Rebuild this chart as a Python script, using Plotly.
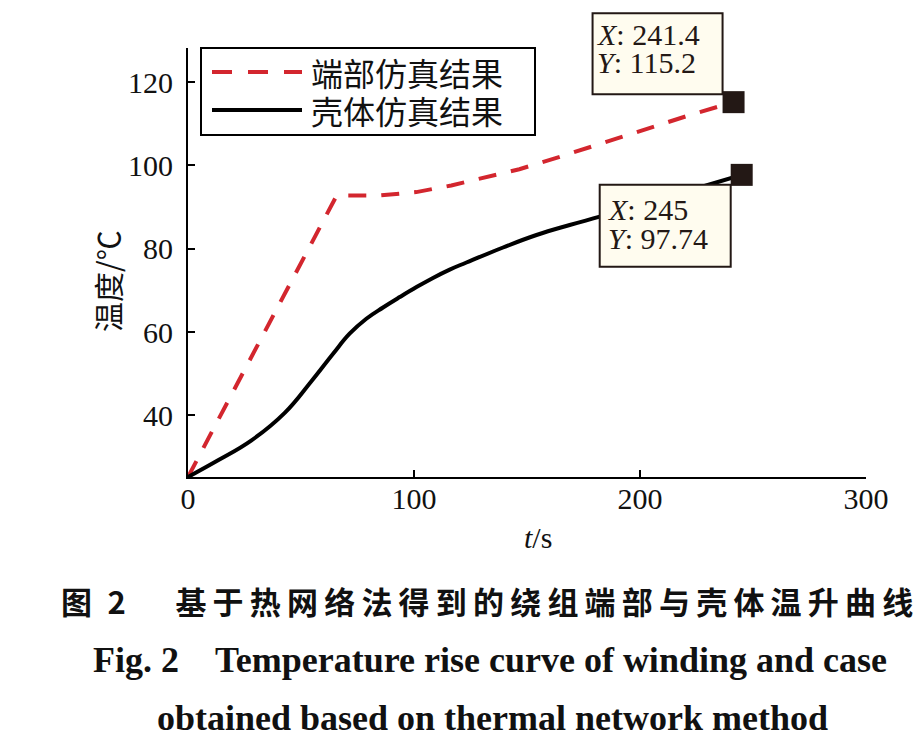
import plotly.graph_objects as go

# ---------------- data ----------------
t_end = [0, 65.8, 84.8, 101, 116.5, 132, 146.6, 162.3, 177.8, 192.5, 207.3, 222.7, 241.4]
T_end = [25.2, 92.8, 92.8, 93.6, 95.2, 97.1, 99.1, 101.7, 104.4, 106.9, 109.5, 112.2, 115.2]

t_case = [0, 13.3, 28.1, 42.8, 54.6, 64.2, 71.5, 78.9, 86.3, 93.7, 101.1, 108.4, 115.8,
          123.2, 139.4, 154.2, 168.9, 182.2, 200, 215, 230, 245]
T_case = [25.2, 29.2, 34.0, 40.6, 48.2, 54.8, 59.6, 63.2, 65.9, 68.4, 70.8, 73.0, 75.0,
          76.7, 80.3, 83.3, 85.7, 87.7, 90.5, 92.9, 95.3, 97.74]

series_names = ["端部仿真结果", "壳体仿真结果"]
x_ticks = [0, 100, 200, 300]
y_ticks = [40, 60, 80, 100, 120]
x_range = [0, 300]
y_range = [25.2, 128.2]
x_title = "<i>t</i>/s"
y_title = "温度/℃"
caption_cn_head = ["图", "2"]
caption_cn_body = "基于热网络法得到的绕组端部与壳体温升曲线"
caption_en1 = "Fig. 2    Temperature rise curve of winding and case"
caption_en2 = "obtained based on thermal network method"

# ---------------- layout constants ----------------
W, H = 923, 749
L, R, T, B = 188, 866, 48, 477
RED = "#d3262e"
DARK = "#231815"
SERIF = "Liberation Serif, serif"
CJK = "Noto Sans CJK SC, sans-serif"


def px(xp):
    return (xp - L) / (R - L)


def py(yp):
    return (B - yp) / (B - T)


def dx(x):
    return L + (x - x_range[0]) / (x_range[1] - x_range[0]) * (R - L)


def dy(y):
    return B - (y - y_range[0]) / (y_range[1] - y_range[0]) * (B - T)


fig = go.Figure()
fig.add_trace(go.Scatter(x=t_end, y=T_end, mode="lines", name=series_names[0],
                         line=dict(color=RED, width=4, dash="18px,15px")))
fig.add_trace(go.Scatter(x=t_case, y=T_case, mode="lines", name=series_names[1],
                         line=dict(color="#000000", width=4, shape="spline", smoothing=1.2)))
# data tip markers
fig.add_trace(go.Scatter(x=[t_end[-1], t_case[-1]], y=[T_end[-1], T_case[-1]], mode="markers",
                         marker=dict(symbol="square", size=22, color=DARK), showlegend=False,
                         cliponaxis=False))

shapes = []
annotations = []

# data tip boxes: (x, y, box x0, x1, y0, y1 offsets in px (screen, y down), line texts, text offsets)
tips = [
    (t_end[-1], T_end[-1], -141, -11, -89, -8,
     f"<i>X</i>: {t_end[-1]}", f"<i>Y</i>: {T_end[-1]}", -139, 68, 40),
    (t_case[-1], T_case[-1], -142, -11, 10, 92,
     f"<i>X</i>: {t_case[-1]:g}", f"<i>Y</i>: {T_case[-1]}", -136, -35, -64),
]
for xa, ya, x0, x1, y0, y1, l1, l2, xs, ys1, ys2 in tips:
    cx, cy = dx(xa), dy(ya)
    shapes.append(dict(type="rect", xref="paper", yref="paper",
                       x0=px(cx + x0), x1=px(cx + x1), y0=py(cy + y1), y1=py(cy + y0),
                       fillcolor="#fffcef", line=dict(color=DARK, width=2), layer="above"))
    for txt, ys in ((l1, ys1), (l2, ys2)):
        annotations.append(dict(x=xa, y=ya, xref="x", yref="y", text=txt, showarrow=False,
                                xanchor="left", yanchor="middle", xshift=xs, yshift=ys,
                                font=dict(family=SERIF, size=30, color=DARK)))

# legend (drawn manually to match the long line samples)
shapes.append(dict(type="rect", xref="paper", yref="paper", x0=px(201), x1=px(535),
                   y0=py(135), y1=py(48), fillcolor="white", line=dict(color="#000", width=2),
                   layer="above"))
shapes.append(dict(type="line", xref="paper", yref="paper", x0=px(212), x1=px(302),
                   y0=py(72), y1=py(72), line=dict(color=RED, width=4, dash="20px,16px"),
                   layer="above"))
shapes.append(dict(type="line", xref="paper", yref="paper", x0=px(212), x1=px(302),
                   y0=py(110), y1=py(110), line=dict(color="#000", width=4), layer="above"))
for name, yy in ((series_names[0], 72), (series_names[1], 110)):
    annotations.append(dict(x=px(309), y=py(yy), xref="paper", yref="paper", text=name,
                            showarrow=False, xanchor="left", yanchor="middle",
                            font=dict(family=CJK, size=32, color="#111")))

# axis titles
annotations.append(dict(x=px(107), y=py(281), xref="paper", yref="paper", text=y_title,
                        textangle=-90, showarrow=False, xanchor="center", yanchor="middle",
                        font=dict(family=CJK, size=30, color="#111")))
annotations.append(dict(x=px(538), y=py(537), xref="paper", yref="paper", text=x_title,
                        showarrow=False, xanchor="center", yanchor="middle",
                        font=dict(family=SERIF, size=30, color="#111")))

# captions
cn_text = (caption_cn_head[0] + "\u2002" + caption_cn_head[1] + "\u2003\u2009\u2009\u2009"
           + "\u2009".join(caption_cn_body))
annotations.append(dict(x=px(487), y=py(600), xref="paper", yref="paper",
                        text=cn_text, showarrow=False,
                        xanchor="center", yanchor="middle",
                        font=dict(family=CJK, size=31, color="#111", weight="bold")))
annotations.append(dict(x=px(490), y=py(660), xref="paper", yref="paper",
                        text=caption_en1.replace("  ", "\u00a0\u00a0"), showarrow=False,
                        xanchor="center", yanchor="middle",
                        font=dict(family=SERIF, size=36, color="#111", weight="bold")))
annotations.append(dict(x=px(492), y=py(718), xref="paper", yref="paper",
                        text=caption_en2, showarrow=False,
                        xanchor="center", yanchor="middle",
                        font=dict(family=SERIF, size=36, color="#111", weight="bold")))

axis_common = dict(showline=True, linewidth=2, linecolor="#000", ticks="inside", ticklen=7,
                   tickwidth=2, tickcolor="#000", showgrid=False, zeroline=False,
                   tickfont=dict(family=SERIF, size=30, color="#111"), mirror=False)

fig.update_layout(
    width=W, height=H,
    margin=dict(l=L, r=W - R, t=T, b=H - B, pad=0),
    paper_bgcolor="white", plot_bgcolor="white",
    showlegend=False,
    xaxis=dict(range=x_range, tickvals=x_ticks, ticklabelstandoff=-6, **axis_common),
    yaxis=dict(range=y_range, tickvals=y_ticks, ticklabelstandoff=7, **axis_common),
    shapes=shapes, annotations=annotations,
)

fig.write_html("out.html", config={"displayModeBar": False},
               post_script="document.body.style.margin='0px';")
